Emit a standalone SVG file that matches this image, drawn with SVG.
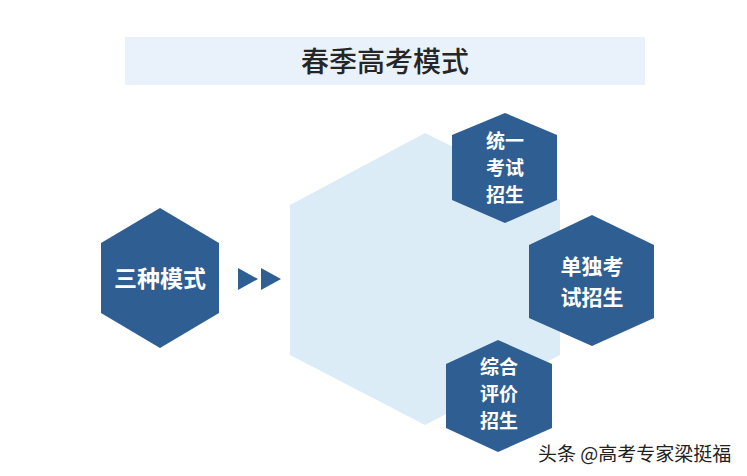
<svg xmlns="http://www.w3.org/2000/svg" width="747" height="476" viewBox="0 0 747 476">
<style>
.hex{fill:#2f5e93}
.t{font-family:"Noto Sans CJK SC",sans-serif;font-weight:bold;fill:#fff;font-size:19px;text-anchor:middle}
</style>
<rect width="747" height="476" fill="#fff"/>
<g id="title"><rect x="125" y="37" width="520" height="48" fill="#e9f2fb"/>
<text x="385" y="72" font-family="Noto Sans CJK SC,sans-serif" font-weight="500" font-size="28" fill="#262626" text-anchor="middle">春季高考模式</text></g>
<g id="bg"><polygon points="425,133 560,200 560,355 425,425 290,355 290,205" fill="#dbecf7"/></g>
<g id="n0"><polygon class="hex" points="160,208 219,243 219,313 160,348 101,313 101,243"/><text class="t" x="160" y="287" style="font-size:23px">三种模式</text></g>
<g id="connectors"><polygon points="238,268 258,279 238,290" fill="#2f5e93"/><polygon points="261,268 281,279 261,290" fill="#2f5e93"/></g>
<g id="n1"><polygon class="hex" points="505,113 557,135 557,200 505,223 452,200 452,135"/>
<text class="t" x="505" y="148">统一</text><text class="t" x="505" y="175">考试</text><text class="t" x="505" y="202">招生</text></g>
<g id="n2"><polygon class="hex" points="592,215 654,245 654,318 592,346 529,318 529,245"/>
<text class="t" x="592" y="274" style="font-size:21px">单独考</text><text class="t" x="592" y="305" style="font-size:21px">试招生</text></g>
<g id="n3"><polygon class="hex" points="498,340 552,364 552,428 498,452 446,428 446,364"/>
<text class="t" x="499" y="374">综合</text><text class="t" x="499" y="401">评价</text><text class="t" x="499" y="428">招生</text></g>
<text x="538" y="461" font-family="Noto Sans CJK SC,sans-serif" font-size="19" fill="#222">头条 @高考专家梁挺福</text>
</svg>
